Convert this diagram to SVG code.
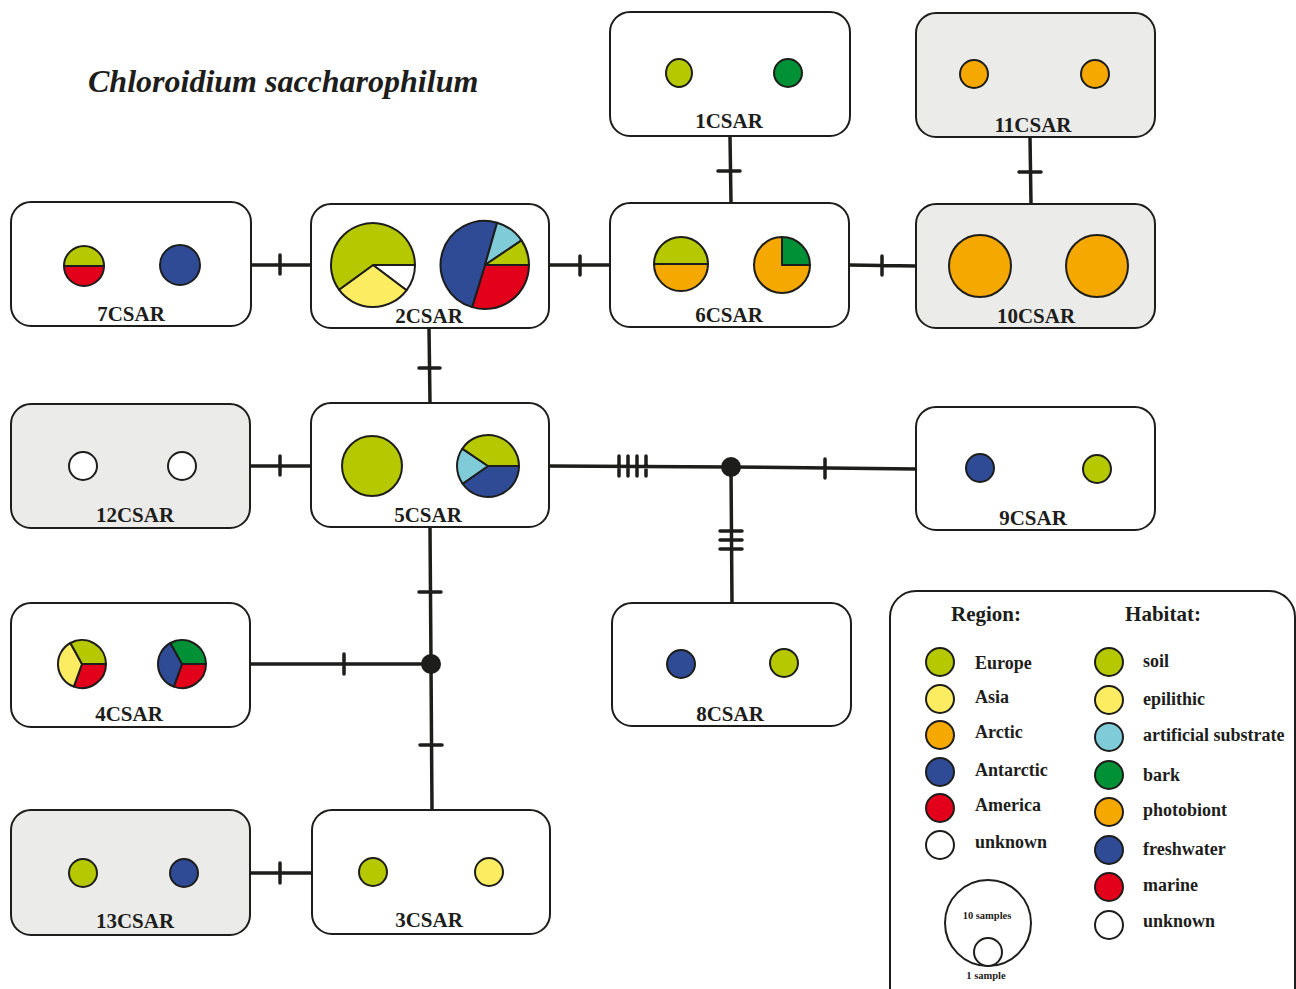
<svg xmlns="http://www.w3.org/2000/svg" width="1296" height="989" viewBox="0 0 1296 989">
<defs>
<style>
.box{fill:#ffffff;stroke:#1d1d1b;stroke-width:2}
.gbox{fill:#ebebea;stroke:#1d1d1b;stroke-width:2}
.lbl{font-family:"Liberation Serif","Times New Roman",serif;font-weight:bold;font-size:21px;fill:#1d1d1b;text-anchor:middle}
.leg{font-family:"Liberation Serif","Times New Roman",serif;font-weight:bold;font-size:18px;fill:#1d1d1b}
.hd{font-family:"Liberation Serif","Times New Roman",serif;font-weight:bold;font-size:21px;fill:#1d1d1b;text-anchor:middle}
.sm{font-family:"Liberation Serif","Times New Roman",serif;font-weight:bold;font-size:10.5px;fill:#1d1d1b;text-anchor:middle}
.s{stroke:#1d1d1b;stroke-width:2;stroke-linejoin:round}
.eu{fill:#b5c800}.as{fill:#fcec62}.ar{fill:#f5a800}.an{fill:#2f4b96}.am{fill:#e2001a}.un{fill:#ffffff}.lb{fill:#7fcbd8}.bk{fill:#009035}
.con{stroke:#1d1d1b;stroke-width:3.5;fill:none;stroke-linecap:round}
</style>
</defs>
<text x="88" y="92" font-family="Liberation Serif, Times New Roman, serif" font-weight="bold" font-style="italic" font-size="32" fill="#1d1d1b">Chloroidium saccharophilum</text>

<g id="connectors" class="con">
<path d="M730,136 L731,203 M718,171 L740,171"/>
<path d="M1030,137 L1031,204 M1019,172 L1041,172"/>
<path d="M251,265 L311,265 M280,255 L280,274"/>
<path d="M549,265 L610,265 M580,256 L580,275"/>
<path d="M849,265 L916,266 M882,256 L882,275"/>
<path d="M429,328 L430,403 M419,368 L440,368"/>
<path d="M250,466 L311,466 M280,456 L280,475"/>
<path d="M549,466 L731,467 M619,456 L619,476 M628,456 L628,476 M637,456 L637,476 M646,456 L646,476"/>
<path d="M731,467 L916,469 M825,459 L825,478"/>
<path d="M731,467 L732,603 M720,531 L742,531 M720,540 L742,540 M720,549 L742,549"/>
<path d="M430,527 L431,664 L432,810 M419,592 L441,592 M420,745 L442,745"/>
<path d="M250,664 L431,664 M344,654 L344,674"/>
<path d="M250,873 L312,873 M280,863 L280,883"/>
<circle cx="731" cy="467" r="10" fill="#1d1d1b" stroke="none"/>
<circle cx="431" cy="664" r="10" fill="#1d1d1b" stroke="none"/>
</g>

<g id="n1CSAR">
<rect class="box" x="610" y="12" width="240" height="124" rx="20"/>
<ellipse class="eu s" cx="679" cy="73" rx="13" ry="14"/>
<ellipse class="bk s" cx="788" cy="73" rx="14" ry="14"/>
<text class="lbl" x="729" y="128">1CSAR</text>
</g>

<g id="n11CSAR">
<rect class="gbox" x="916" y="13" width="239" height="124" rx="20"/>
<circle class="ar s" cx="974" cy="74" r="14"/>
<circle class="ar s" cx="1095" cy="74" r="14"/>
<text class="lbl" x="1033" y="132">11CSAR</text>
</g>

<g id="n7CSAR">
<rect class="box" x="11" y="202" width="240" height="124" rx="20"/>
<path class="eu s" d="M64,266 A20,20 0 0 1 104,266 Z"/>
<path class="am s" d="M64,266 A20,20 0 0 0 104,266 Z"/>
<circle class="an s" cx="180" cy="265" r="20"/>
<text class="lbl" x="131" y="321">7CSAR</text>
</g>

<g id="n2CSAR">
<rect class="box" x="311" y="204" width="238" height="124" rx="20"/>
<path class="un s" d="M373,265 L415,265 A42,42 0 0 1 406.5,290.3 Z"/>
<path class="as s" d="M373,265 L406.5,290.3 A42,42 0 0 1 339,289.7 Z"/>
<path class="eu s" d="M373,265 L339,289.7 A42,42 0 1 1 415,265 Z"/>
<path class="am s" d="M485,265 L529,265 A44,44 0 0 1 472.1,307.1 Z"/>
<path class="an s" d="M485,265 L472.1,307.1 A44,44 0 0 1 497.1,222.7 Z"/>
<path class="lb s" d="M485,265 L497.1,222.7 A44,44 0 0 1 521.5,240.4 Z"/>
<path class="eu s" d="M485,265 L521.5,240.4 A44,44 0 0 1 529,265 Z"/>
<text class="lbl" x="429" y="323">2CSAR</text>
</g>

<g id="n6CSAR">
<rect class="box" x="610" y="203" width="239" height="124" rx="20"/>
<path class="eu s" d="M654,264 A27,27 0 0 1 708,264 Z"/>
<path class="ar s" d="M654,264 A27,27 0 0 0 708,264 Z"/>
<path class="ar s" d="M782,265 L810,265 A28,28 0 1 1 782,237 Z"/>
<path class="bk s" d="M782,265 L782,237 A28,28 0 0 1 810,265 Z"/>
<text class="lbl" x="729" y="322">6CSAR</text>
</g>

<g id="n10CSAR">
<rect class="gbox" x="916" y="204" width="239" height="124" rx="20"/>
<circle class="ar s" cx="980" cy="266" r="31"/>
<circle class="ar s" cx="1097" cy="266" r="31"/>
<text class="lbl" x="1036" y="323">10CSAR</text>
</g>

<g id="n12CSAR">
<rect class="gbox" x="11" y="404" width="239" height="124" rx="20"/>
<circle class="un s" cx="83" cy="466" r="14"/>
<circle class="un s" cx="182" cy="466" r="14"/>
<text class="lbl" x="135" y="522">12CSAR</text>
</g>

<g id="n5CSAR">
<rect class="box" x="311" y="403" width="238" height="124" rx="20"/>
<circle class="eu s" cx="372" cy="466" r="30"/>
<path class="an s" d="M488,466 L519,466 A31,31 0 0 1 462.6,483.8 Z"/>
<path class="lb s" d="M488,466 L462.6,483.8 A31,31 0 0 1 462.3,448.7 Z"/>
<path class="eu s" d="M488,466 L462.3,448.7 A31,31 0 0 1 519,466 Z"/>
<text class="lbl" x="428" y="522">5CSAR</text>
</g>

<g id="n9CSAR">
<rect class="box" x="916" y="407" width="239" height="123" rx="20"/>
<circle class="an s" cx="980" cy="468" r="14"/>
<circle class="eu s" cx="1097" cy="469" r="14"/>
<text class="lbl" x="1033" y="525">9CSAR</text>
</g>

<g id="n4CSAR">
<rect class="box" x="11" y="603" width="239" height="124" rx="20"/>
<path class="am s" d="M82,664 L106,664 A24,24 0 0 1 73.8,686.6 Z"/>
<path class="as s" d="M82,664 L73.8,686.6 A24,24 0 0 1 70.4,643 Z"/>
<path class="eu s" d="M82,664 L70.4,643 A24,24 0 0 1 106,664 Z"/>
<path class="am s" d="M182,664 L206,664 A24,24 0 0 1 173.8,686.6 Z"/>
<path class="an s" d="M182,664 L173.8,686.6 A24,24 0 0 1 170.4,643 Z"/>
<path class="bk s" d="M182,664 L170.4,643 A24,24 0 0 1 206,664 Z"/>
<text class="lbl" x="129" y="721">4CSAR</text>
</g>

<g id="n8CSAR">
<rect class="box" x="612" y="603" width="239" height="123" rx="20"/>
<circle class="an s" cx="681" cy="664" r="14"/>
<circle class="eu s" cx="784" cy="663" r="14"/>
<text class="lbl" x="730" y="721">8CSAR</text>
</g>

<g id="n13CSAR">
<rect class="gbox" x="11" y="810" width="239" height="125" rx="20"/>
<circle class="eu s" cx="83" cy="873" r="14"/>
<circle class="an s" cx="184" cy="873" r="14"/>
<text class="lbl" x="135" y="928">13CSAR</text>
</g>

<g id="n3CSAR">
<rect class="box" x="312" y="810" width="238" height="124" rx="20"/>
<circle class="eu s" cx="373" cy="872" r="14"/>
<circle class="as s" cx="489" cy="872" r="14"/>
<text class="lbl" x="429" y="927">3CSAR</text>
</g>

<g id="legend">
<rect class="box" x="890" y="591" width="405" height="430" rx="26"/>
<text class="hd" x="986" y="621">Region:</text>
<text class="hd" x="1163" y="621">Habitat:</text>
<circle class="eu s" cx="940" cy="662" r="14"/>
<circle class="as s" cx="940" cy="699" r="14"/>
<circle class="ar s" cx="940" cy="735" r="14"/>
<circle class="an s" cx="940" cy="772" r="14"/>
<circle class="am s" cx="940" cy="808" r="14"/>
<circle class="un s" cx="940" cy="845" r="14"/>
<text class="leg" x="975" y="669">Europe</text>
<text class="leg" x="975" y="703">Asia</text>
<text class="leg" x="975" y="738">Arctic</text>
<text class="leg" x="975" y="776">Antarctic</text>
<text class="leg" x="975" y="811">America</text>
<text class="leg" x="975" y="848">unknown</text>
<circle class="eu s" cx="1109" cy="662" r="14"/>
<circle class="as s" cx="1109" cy="700" r="14"/>
<circle class="lb s" cx="1109" cy="737" r="14"/>
<circle class="bk s" cx="1109" cy="775" r="14"/>
<circle class="ar s" cx="1109" cy="812" r="14"/>
<circle class="an s" cx="1109" cy="850" r="14"/>
<circle class="am s" cx="1109" cy="887" r="14"/>
<circle class="un s" cx="1109" cy="925" r="14"/>
<text class="leg" x="1143" y="667">soil</text>
<text class="leg" x="1143" y="705">epilithic</text>
<text class="leg" x="1143" y="741">artificial substrate</text>
<text class="leg" x="1143" y="781">bark</text>
<text class="leg" x="1143" y="816">photobiont</text>
<text class="leg" x="1143" y="855">freshwater</text>
<text class="leg" x="1143" y="891">marine</text>
<text class="leg" x="1143" y="927">unknown</text>
<circle class="un s" cx="988" cy="923" r="43"/>
<circle class="un s" cx="988" cy="952" r="14"/>
<text class="sm" x="987" y="919">10 samples</text>
<text class="sm" x="986" y="979">1 sample</text>
</g>
</svg>
